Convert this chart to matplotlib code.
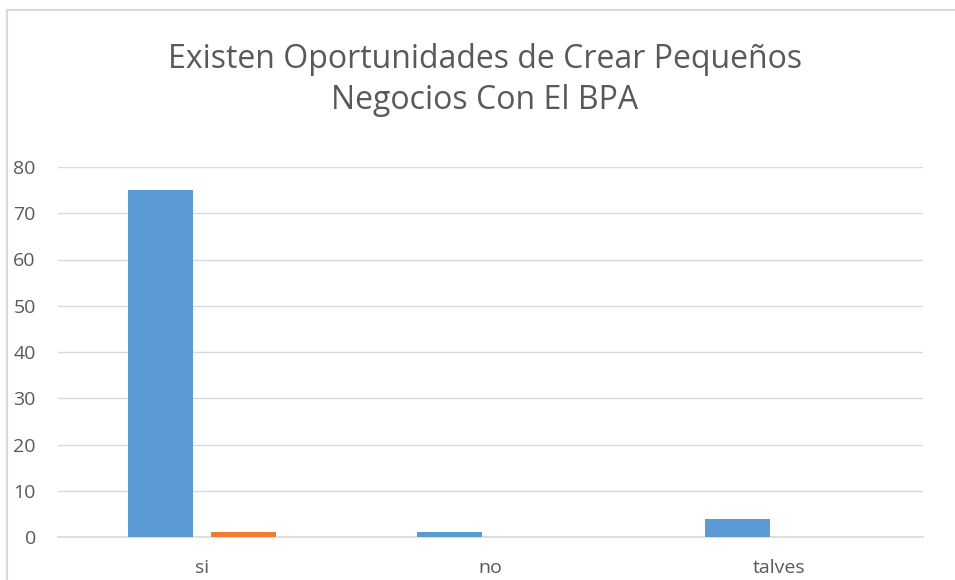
import matplotlib
matplotlib.use("Agg")
import matplotlib.pyplot as plt
from matplotlib.lines import Line2D
import numpy as np

categories = ["si", "no", "talves"]
series1 = [75, 1, 4]
series2 = [1, 0, 0]
yticks = [0, 10, 20, 30, 40, 50, 60, 70, 80]
title = "Existen Oportunidades de Crear Pequeños\nNegocios Con El BPA"

W, H = 955, 580
fig = plt.figure(figsize=(W/100, H/100), dpi=100)
plt.rcParams['font.family'] = ['Open Sans', 'DejaVu Sans']

# border (left and top only visible)
fig.lines.append(Line2D([6.5/W, 6.5/W], [0, 1 - 9.5/H], transform=fig.transFigure,
                        color="#d9d9d9", linewidth=1.5))
fig.lines.append(Line2D([6.5/W, 1], [1 - 9.5/H, 1 - 9.5/H], transform=fig.transFigure,
                        color="#d9d9d9", linewidth=1.5))

left, right = 58/W, 923/W
bottom, top = 1 - 537/H, 1 - 167/H
ax = fig.add_axes([left, bottom, right-left, top-bottom])

x = np.arange(len(categories))
bw = 0.225
off = 0.143
ax.bar(x - off, series1, bw, color="#5b9bd5", zorder=3)
ax.bar(x + off, series2, bw, color="#ed7d31", zorder=3)

ax.set_xlim(-0.5, 2.5)
ax.set_ylim(0, 80)
ax.set_yticks(yticks)
ax.set_xticks(x)
ax.set_xticklabels(categories)
ax.grid(axis="y", color="#d9d9d9", linewidth=1, zorder=0)
for s in ["top", "right", "left"]:
    ax.spines[s].set_visible(False)
ax.spines["bottom"].set_color("#d9d9d9")
ax.spines["bottom"].set_linewidth(1.2)
ax.tick_params(axis="both", length=0, labelsize=14, colors="#595959")
ax.tick_params(axis="y", pad=16)
ax.tick_params(axis="x", pad=16)

fig.text(485/W, 1 - 80/H, title, ha="center", va="center", fontsize=23,
         color="#595959", linespacing=1.35)

fig.savefig("out.png", dpi=100)
